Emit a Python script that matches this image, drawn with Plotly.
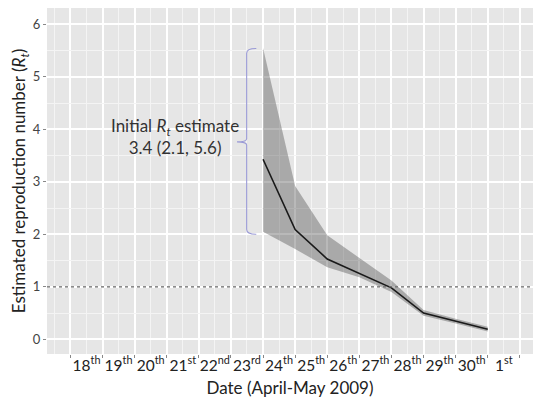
import plotly.graph_objects as go

# Data (x = April day; 31 = May 1st)
est_day = [24, 25, 26, 27, 28, 29, 30, 31]
rt_mean = [3.43, 2.09, 1.53, 1.26, 0.98, 0.50, 0.34, 0.19]
rt_upper = [5.55, 2.92, 1.98, 1.55, 1.12, 0.56, 0.39, 0.24]
rt_lower = [2.05, 1.72, 1.37, 1.18, 0.90, 0.45, 0.30, 0.15]

date_labels = ["18<sup>th</sup>", "19<sup>th</sup>", "20<sup>th</sup>", "21<sup>st</sup>",
               "22<sup>nd</sup>", "23<sup>rd</sup>", "24<sup>th</sup>", "25<sup>th</sup>",
               "26<sup>th</sup>", "27<sup>th</sup>", "28<sup>th</sup>", "29<sup>th</sup>",
               "30<sup>th</sup>", "1<sup>st</sup>"]
label_days = [18 + i for i in range(len(date_labels))]
threshold = 1

FONT = "Lato"
label_pos = [17.5] + [d + 0.5 for d in label_days]
label_text = [""] + date_labels
tick_pos = [17] + label_days + [label_days[-1] + 1]

fig = go.Figure()
fig.add_trace(go.Scatter(x=est_day, y=rt_upper, mode="lines", line=dict(width=0),
                         showlegend=False, hoverinfo="skip"))
fig.add_trace(go.Scatter(x=est_day, y=rt_lower, mode="lines", line=dict(width=0),
                         fill="tonexty", fillcolor="rgba(70,70,70,0.38)",
                         showlegend=False, hoverinfo="skip"))
fig.add_trace(go.Scatter(x=est_day, y=rt_mean, mode="lines",
                         line=dict(color="#1a1a1a", width=1.6), showlegend=False))

fig.add_shape(type="line", xref="paper", x0=0, x1=1, y0=threshold, y1=threshold,
              line=dict(color="#666666", width=1.3, dash="dot"))

# bracket
bx = 23.49
fig.add_shape(type="path",
              path=f"M {bx+0.3},5.54 Q {bx},5.54 {bx},5.45 L {bx},3.82 Q {bx},3.76 {bx-0.3},3.76 "
                   f"Q {bx},3.76 {bx},3.70 L {bx},2.09 Q {bx},2.0 {bx+0.3},2.0",
              line=dict(color="#9a9ad6", width=1.1))

fig.add_annotation(x=21.26, y=3.86, xref="x", yref="y", showarrow=False,
                   text="Initial <i>R<sub>t</sub></i> estimate<br>3.4 (2.1, 5.6)",
                   font=dict(family=FONT, size=17, color="#333333"), align="center")

fig.update_layout(
    width=534, height=401,
    margin=dict(l=47, r=1, t=8, b=47),
    paper_bgcolor="white", plot_bgcolor="#E6E6E6",
    font=dict(family=FONT),
    xaxis=dict(range=[17.27, 32.41], tickmode="array", tickvals=label_pos, ticktext=label_text,
               ticks="", showgrid=True, gridcolor="#F4F4F4", gridwidth=0.8, zeroline=False,
               tickfont=dict(family=FONT, size=15.5, color="#222222"),
               title=dict(text="Date (April-May 2009)", font=dict(family=FONT, size=17, color="#222222"),
                          standoff=9),
               minor=dict(tickmode="array", tickvals=tick_pos, ticks="outside", ticklen=3,
                          tickcolor="#888888", tickwidth=1, showgrid=True, gridcolor="white",
                          gridwidth=1.5)),
    yaxis=dict(range=[-0.28, 6.31], tickmode="array", tickvals=[0, 1, 2, 3, 4, 5, 6],
               ticks="outside", ticklen=3, tickcolor="#888888", showgrid=True, gridcolor="white",
               gridwidth=1.5, zeroline=False,
               tickfont=dict(family=FONT, size=13, color="#444444"),
               title=dict(text="Estimated reproduction number (<i>R<sub>t</sub></i>)",
                          font=dict(family=FONT, size=17, color="#222222"), standoff=2),
               minor=dict(tickmode="array", tickvals=[-0.5, 0.5, 1.5, 2.5, 3.5, 4.5, 5.5],
                          ticks="", showgrid=True, gridcolor="#F4F4F4", gridwidth=0.8)),
)

fig.write_html("out.html")
